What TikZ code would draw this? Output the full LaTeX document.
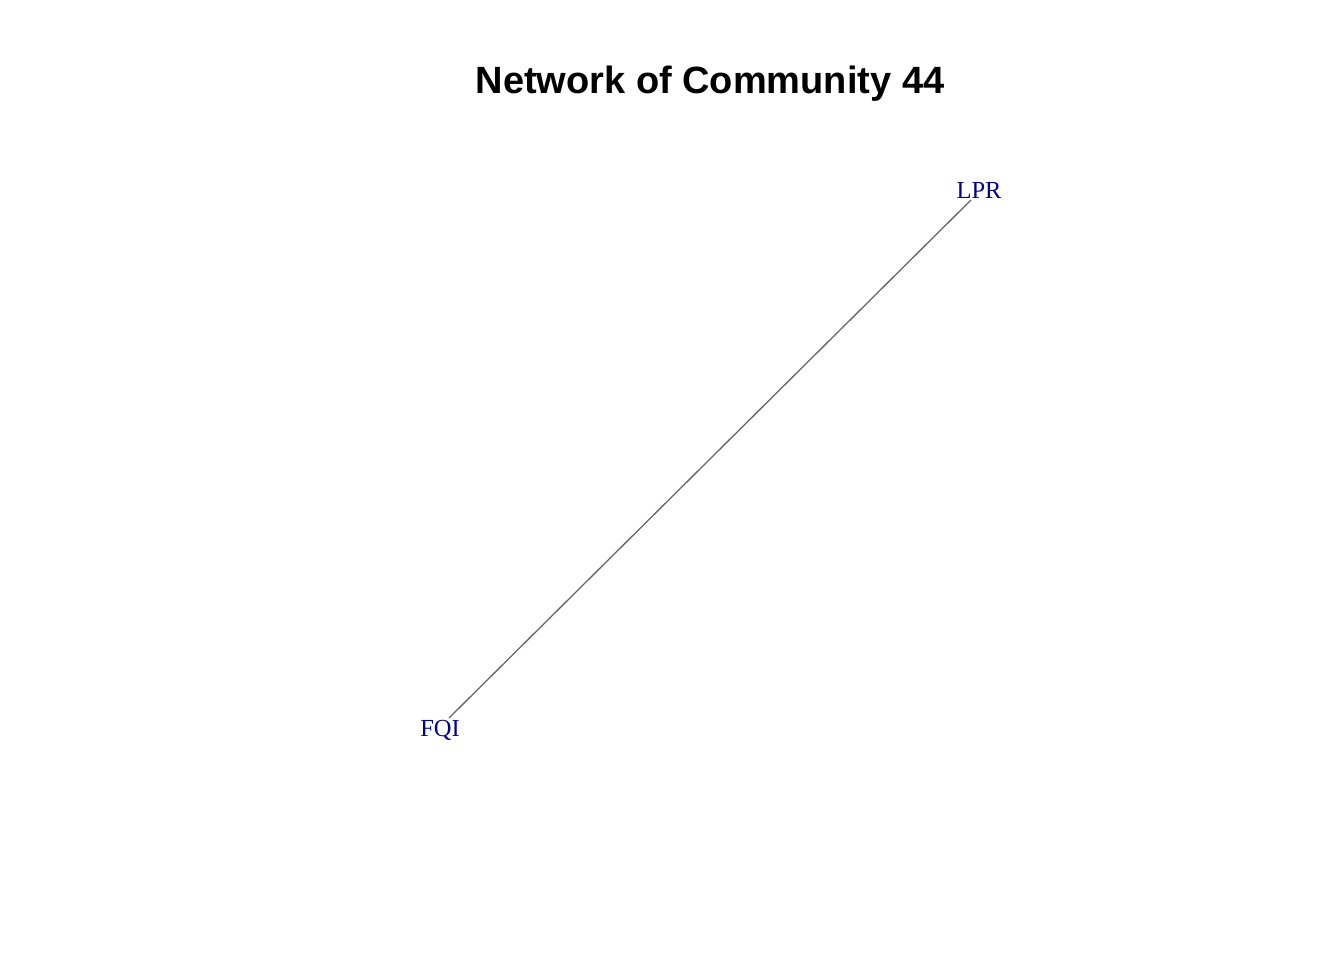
\documentclass[tikz,border=0pt]{standalone}
\usepackage{fontspec}
\setmainfont{Liberation Serif}
\newfontfamily\titlefont{Liberation Sans}
\definecolor{lblblue}{HTML}{00008B}
\definecolor{edgegray}{HTML}{666666}
\begin{document}
\begin{tikzpicture}[x=1pt,y=-1pt,
  lbl/.style={text=lblblue,font=\fontsize{24.5}{24.5}\selectfont,inner sep=0pt,anchor=base},
  edge/.style={draw=edgegray,line width=1.3pt}]
\useasboundingbox[fill=white] (0,0) rectangle (1344,960);
\node[font=\titlefont\bfseries\fontsize{38}{38}\selectfont,anchor=base,inner sep=0pt] (title) at (710,94) {Network of Community 44};
\coordinate (vL) at (971,200);
\coordinate (vF) at (449,718);
\draw[edge] (vF) -- (vL);
\node[lbl] (LPR) at (979,199) {LPR};
\node[lbl] (FQI) at (440,736) {FQI};
\end{tikzpicture}
\end{document}
